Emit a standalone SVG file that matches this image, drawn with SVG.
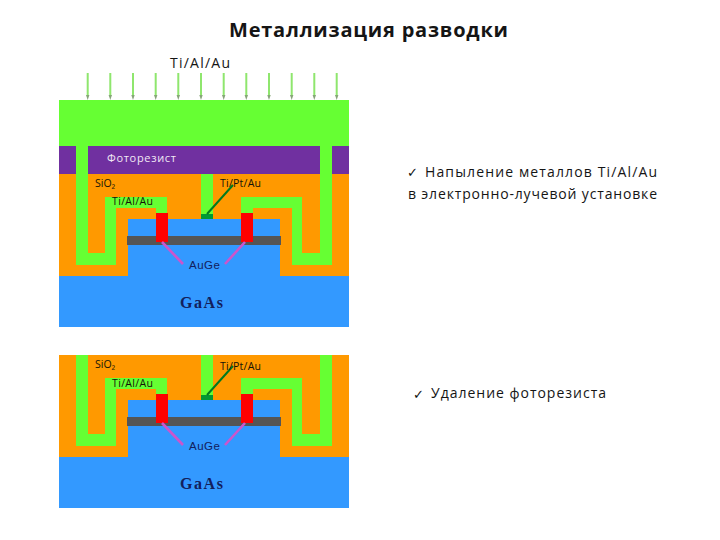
<svg xmlns="http://www.w3.org/2000/svg" width="720" height="540" viewBox="0 0 720 540">
<style>
.s{font-family:"Open Sans","Liberation Sans",sans-serif;font-size:10.5px;fill:#141408}
.b{font-family:"Liberation Sans",sans-serif;font-size:11.5px;fill:#12205c}
.g{font-family:"Liberation Serif",serif;font-weight:bold;font-size:16px;fill:#12205c}
.t{font-family:"Open Sans","Liberation Sans",sans-serif;font-size:14px;fill:#151515}
.c{font-family:"DejaVu Sans",sans-serif;font-size:13px;font-weight:bold;fill:#111}
.ar{stroke:#8fe66e;stroke-width:2;fill:none}
.ah{fill:#86a578}
.m{fill:#66ff33}
</style>
<defs>
<g id="dev">
<rect x="59" y="174" width="290" height="102" fill="#ff9900"/>
<rect x="59" y="276" width="290" height="51" fill="#3399ff"/>
<rect x="128" y="219" width="152" height="58" fill="#3399ff"/>
<path class="m" d="M76 174H88V253H105V197H167V213H156V208H116V265H76Z"/>
<path class="m" d="M332 174H320V253H302V197H241V213H253V208H292V265H332Z"/>
<rect class="m" x="201" y="174" width="12" height="40"/>
<rect x="201" y="214" width="12" height="5" fill="#009933"/>
<rect x="127" y="236" width="154" height="9" fill="#555555"/>
<rect x="156" y="213" width="12" height="29" fill="#ff0000"/>
<rect x="241" y="213" width="12" height="29" fill="#ff0000"/>
<path d="M162 242L183 264M245 242L225 264" stroke="#cc55cc" stroke-width="2.600" fill="none"/>
<path d="M233 185L207 214" stroke="#007a1f" stroke-width="2" fill="none"/>
</g>
</defs>
<g id="title"><text x="368.500" y="37" text-anchor="middle" font-family="Open Sans, Liberation Sans, sans-serif" font-weight="bold" font-size="20" fill="#151515" textLength="279">Металлизация разводки</text></g>
<text x="200" y="68" text-anchor="middle" class="t" textLength="60">Ti/Al/Au</text>
<g id="top-panel">
<use href="#dev"/>
<rect x="59" y="146" width="290" height="28" fill="#7030a0"/>
<rect class="m" x="59" y="100" width="290" height="46"/>
<rect class="m" x="76" y="146" width="12" height="28"/>
<rect class="m" x="320" y="146" width="12" height="28"/>
<text x="107" y="162" font-family="Open Sans, Liberation Sans, sans-serif" font-size="11" fill="#f0e8f4" textLength="69">Фоторезист</text>
<text x="95" y="187" class="s">SiO₂</text>
<text x="220" y="187" class="s" textLength="41">Ti/Pt/Au</text>
<text x="112" y="205" class="s" textLength="41">Ti/Al/Au</text>
<text x="189" y="269" class="b" textLength="31">AuGe</text>
<text x="180" y="308" class="g" textLength="43">GaAs</text>
</g>
<g id="arrows">
<path class="ar" d="M87.700 73V96M110.300 73V96M133 73V96M155.700 73V96M178.300 73V96M201 73V96M223.700 73V96M246.300 73V96M269 73V96M291.700 73V96M314.300 73V96M336.700 73V96"/>
<path class="ah" d="M86 95h3.400l-1.700 5zM108.600 95h3.400l-1.700 5zM131.300 95h3.400l-1.700 5zM154 95h3.400l-1.700 5zM176.600 95h3.400l-1.700 5zM199.300 95h3.400l-1.700 5zM222 95h3.400l-1.700 5zM244.600 95h3.400l-1.700 5zM267.300 95h3.400l-1.700 5zM290 95h3.400l-1.700 5zM312.600 95h3.400l-1.700 5zM335 95h3.400l-1.700 5z"/>
</g>
<g id="bottom-panel">
<use href="#dev" y="181"/>
<text x="95" y="368" class="s">SiO₂</text>
<text x="220" y="370" class="s" textLength="41">Ti/Pt/Au</text>
<text x="112" y="387" class="s" textLength="41">Ti/Al/Au</text>
<text x="189" y="450" class="b" textLength="31">AuGe</text>
<text x="180" y="489" class="g" textLength="43">GaAs</text>
</g>
<g id="notes">
<text x="407" y="177" class="c">✓</text>
<text x="425" y="177" class="t" textLength="232">Напыление металлов Ti/Al/Au</text>
<text x="408" y="199" class="t" textLength="249">в электронно-лучевой установке</text>
<text x="413" y="399" class="c">✓</text>
<text x="431" y="398" class="t" textLength="175">Удаление фоторезиста</text>
</g>
</svg>
